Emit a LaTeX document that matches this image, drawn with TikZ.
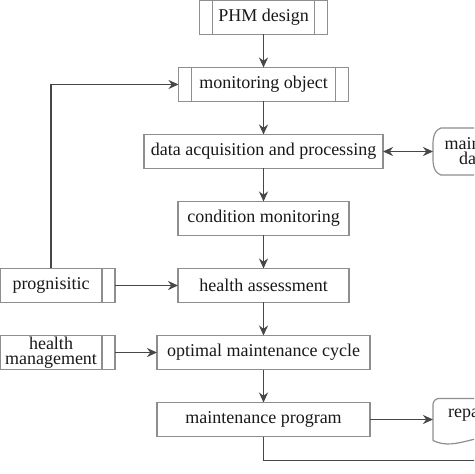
\documentclass[tikz,border=0pt]{standalone}
\usepackage{fontspec}
\setmainfont{Liberation Serif}
\usetikzlibrary{arrows.meta,calc,positioning}

\definecolor{boxgray}{HTML}{8E8E8E}
\definecolor{linegray}{HTML}{474747}

\begin{document}
\begin{tikzpicture}[node distance=16.5pt]

\tikzset{block/.style={draw=boxgray,line width=0.6pt,fill=white,text=black!90,font=\fontsize{9}{7.5}\selectfont,inner xsep=2pt,inner ysep=0.5pt,outer sep=0pt,minimum height=17pt,shape=rectangle,align=center},
process/.style={block,path picture={\draw[boxgray,line width=0.6pt] ([xshift=6.5pt]path picture bounding box.north west) -- ([xshift=6.5pt]path picture bounding box.south west) ([xshift=-6.5pt]path picture bounding box.north east) -- ([xshift=-6.5pt]path picture bounding box.south east);}},
store/.style={text=black!90,font=\fontsize{9}{7.5}\selectfont,inner sep=0pt,outer sep=0pt,align=center},
outline/.style={draw=boxgray,line width=0.6pt},
flow/.style={-{Stealth[length=5pt,width=4.5pt]},draw=linegray,line width=0.9pt},
line/.style={draw=linegray,line width=0.9pt}}

\path[use as bounding box,clip] (0,0) rectangle (237pt,-237pt);

% Main column
\node (phm) [process,minimum width=64pt] at (131.75pt,-8.75pt) {PHM design};
\node (monitor) [below=of phm,process,minimum width=85pt] {monitoring object};
\node (acq) [below=of monitor,block,minimum width=119.5pt] {data acquisition and processing};
\node (cond) [below=of acq,block,minimum width=85.5pt] {condition monitoring};
\node (health) [below=of cond,block,minimum width=85.5pt] {health assessment};
\node (optimal) [below=of health,block,minimum width=106.5pt] {optimal maintenance cycle};
\node (maint) [below=of optimal,block,minimum width=106.5pt] {maintenance program};

% Side inputs
\node (prog) [left=31.5pt of health,process,minimum width=64pt] {prognisitic};
\node (hm) [below=of prog,process,minimum width=64pt] {health\\management};

% Stores
\node (mdata) [right=25pt of acq,store,minimum width=57pt,minimum height=23.5pt] {maintenance\\database};
\node (repair) [right=31.5pt of maint,store,minimum width=36pt,minimum height=21pt,text depth=7.8pt] {repair};
\coordinate [below right=12pt and 55pt of maint.south east] (exit);

\draw[outline] ([xshift=4pt]mdata.north west) to[out=200,in=90] (mdata.west) to[out=-90,in=160] ([xshift=4pt]mdata.south west) -- (mdata.south east) -- (mdata.north east) -- cycle;
\draw[outline,rounded corners=3pt] (repair.south west) -- (repair.north west) -- (repair.north east) [sharp corners] -- (repair.south east) .. controls ([xshift=-12pt,yshift=6pt]repair.south east) and ([xshift=12pt,yshift=-6pt]repair.south west) .. (repair.south west);

% Arrows down the column
\draw[flow] (phm) -- (monitor);
\draw[flow] (monitor) -- (acq);
\draw[flow] (acq) -- (cond);
\draw[flow] (cond) -- (health);
\draw[flow] (health) -- (optimal);
\draw[flow] (optimal) -- (maint);

% Arrows from the side
\draw[flow] (prog.north) |- (monitor.west);
\draw[flow] (prog) -- (health);
\draw[flow] (hm) -- (optimal);
\draw[flow,{Stealth[length=5pt,width=4.5pt]}-{Stealth[length=5pt,width=4.5pt]}] (acq) -- (mdata.west);
\draw[flow] (maint) -- (repair.west);
\draw[line] (maint.south) |- (exit);

\end{tikzpicture}
\end{document}
